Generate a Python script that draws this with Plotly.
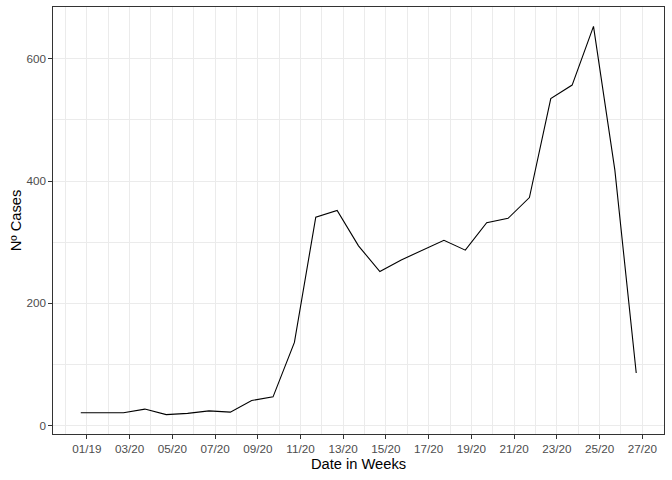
import pandas as pd
import plotly.graph_objects as go

# Weekly data points (dates of each observation)
dates = pd.date_range("2019-12-28", periods=27, freq="7D")
cases = [21, 21, 21, 27, 18, 20, 24, 22, 41, 47, 136, 341, 352, 294, 252,
         271, 287, 303, 287, 332, 339, 373, 535, 557, 653, 418, 86]

# Tick breaks every two weeks
tick_dates = pd.date_range("2019-12-30", periods=14, freq="14D")
tick_labels = ["01/19", "03/20", "05/20", "07/20", "09/20", "11/20", "13/20",
               "15/20", "17/20", "19/20", "21/20", "23/20", "25/20", "27/20"]
y_ticks = [0, 200, 400, 600]

fig = go.Figure()
fig.add_trace(go.Scatter(x=dates, y=cases, mode="lines",
                         line=dict(color="black", width=1.1),
                         hoverinfo="skip"))

span = dates[-1] - dates[0]
x_lo = dates[0] - span * 0.05
x_hi = dates[-1] + span * 0.05
ymin, ymax = min(cases), max(cases)
yr = ymax - ymin

fig.update_layout(
    width=672, height=480,
    margin=dict(l=53, r=8, t=7, b=46, autoexpand=False),
    paper_bgcolor="white", plot_bgcolor="white",
    showlegend=False,
    font=dict(family="Liberation Sans, Arial, sans-serif"),
)
fig.update_xaxes(
    type="date", automargin=False,
    range=[x_lo, x_hi],
    tickmode="array", tickvals=tick_dates, ticktext=tick_labels,
    tickfont=dict(size=11.7, color="#4D4D4D"),
    ticks="outside", ticklen=3.7, tickwidth=1, tickcolor="#333333",
    showgrid=True, gridcolor="#EBEBEB", gridwidth=1,
    minor=dict(showgrid=True, gridcolor="#EBEBEB", gridwidth=1,
               tick0="2019-12-23", dtick=14 * 86400000),
    showline=True, linecolor="#333333", linewidth=1, mirror=True,
    title=dict(text="Date in Weeks", font=dict(size=14.7, color="black"), standoff=4),
    zeroline=False,
)
fig.update_yaxes(
    automargin=False,
    range=[ymin - 0.05 * yr, ymax + 0.05 * yr],
    tickmode="array", tickvals=y_ticks, ticktext=[str(v) for v in y_ticks],
    tickfont=dict(size=11.7, color="#4D4D4D"),
    ticks="outside", ticklen=3.7, tickwidth=1, tickcolor="#333333",
    showgrid=True, gridcolor="#EBEBEB", gridwidth=1,
    minor=dict(showgrid=True, gridcolor="#EBEBEB", gridwidth=1,
               tick0=100, dtick=200),
    showline=True, linecolor="#333333", linewidth=1, mirror=True,
    title=dict(text="Nº Cases", font=dict(size=14.7, color="black"), standoff=1),
    zeroline=False,
)

fig.write_html("out.html", config={"displayModeBar": False},
               post_script="document.body.style.margin='0';document.body.style.padding='0';")
